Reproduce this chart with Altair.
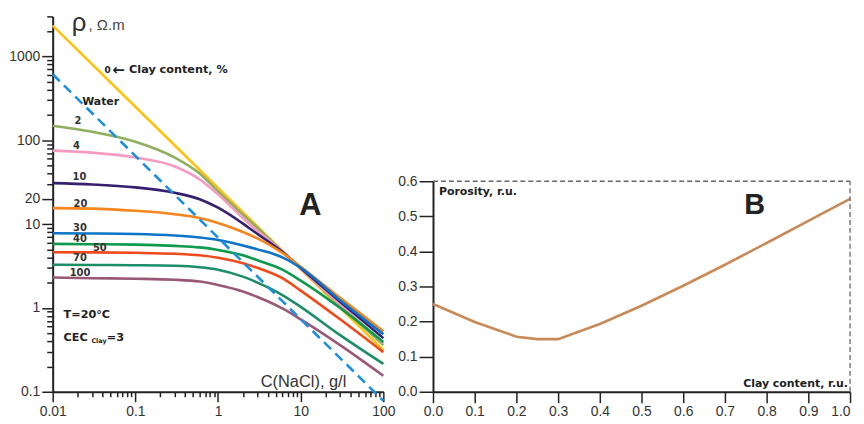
import altair as alt
import pandas as pd

# ---------------- Panel A data ----------------
conc = [0.01, 0.03, 0.1, 0.3, 0.6, 1, 2, 3, 6, 10, 30, 100]
clay0_x = [0.01, 0.1, 1, 10, 100]
clay0 = [2330, 250.9, 27.04, 2.914, 0.314]
clay2 = [148.5, 126.1, 96.0, 62.1, 40.1, 24.6, 12.95, 8.97, 4.75, 2.94, 1.067, 0.360]
clay4 = [75.1, 71.1, 62.1, 48.6, 34.1, 22.6, 11.78, 8.26, 4.71, 2.95, 1.097, 0.380]
clay10 = [30.8, 29.7, 27.4, 23.6, 19.77, 15.68, 10.14, 7.62, 4.66, 3.00, 1.184, 0.436]
clay20 = [15.5, 15.3, 14.4, 13.1, 11.78, 10.3, 8.04, 6.74, 4.54, 3.10, 1.317, 0.527]
clay30 = [7.76, 7.72, 7.62, 7.31, 6.92, 6.47, 5.57, 4.99, 4.01, 3.01, 1.233, 0.486]
clay40 = [5.80, 5.75, 5.69, 5.49, 5.27, 4.92, 4.24, 3.70, 2.86, 2.116, 1.00, 0.391]
clay50 = [4.62, 4.60, 4.54, 4.42, 4.24, 3.96, 3.41, 3.01, 2.265, 1.61, 0.731, 0.297]
clay70 = [3.27, 3.25, 3.23, 3.18, 3.06, 2.86, 2.36, 2.00, 1.425, 1.03, 0.473, 0.215]
clay100 = [2.30, 2.26, 2.23, 2.17, 2.06, 1.872, 1.568, 1.35, 0.987, 0.731, 0.360, 0.155]
water_x = [0.01, 1, 100]
water = [612, 6.9, 0.078]

series_names = ["0", "2", "4", "10", "20", "30", "40", "50", "70", "100"]
series_colors = ["#FFC20E", "#8FAF5E", "#F59BC1", "#34206F", "#F7861E",
                 "#0B74C8", "#0E9A4B", "#F0491A", "#1C8E66", "#9A5877"]

label_text = ["2", "4", "10", "20", "30", "40", "50", "70", "100"]
label_x = [0.0202, 0.0194, 0.0211, 0.0217, 0.0214, 0.0214, 0.0372, 0.0214, 0.0214]
label_y = [170, 85.4, 36.0, 17.4, 9.04, 6.70, 5.20, 3.96, 2.58]

x_ticks_a = [0.01, 0.02, 0.03, 0.04, 0.05, 0.06, 0.07, 0.08, 0.09,
             0.1, 0.2, 0.3, 0.4, 0.5, 0.6, 0.7, 0.8, 0.9,
             1, 2, 3, 4, 5, 6, 7, 8, 9,
             10, 20, 30, 40, 50, 60, 70, 80, 90, 100]
y_ticks_a = [0.1, 0.2, 0.3, 0.4, 0.5, 0.6, 0.7, 0.8, 0.9,
             1, 2, 3, 4, 5, 6, 7, 8, 9,
             10, 20, 30, 40, 50, 60, 70, 80, 90,
             100, 200, 300, 400, 500, 600, 700, 800, 900,
             1000, 2000, 3000]

# ---------------- Panel B data ----------------
clay_frac = [0, 0.1, 0.2, 0.25, 0.3, 0.4, 0.5, 0.6, 0.7, 0.8, 0.9, 1.0]
porosity = [0.25, 0.199, 0.157, 0.15, 0.15, 0.193, 0.245, 0.302, 0.362, 0.424, 0.487, 0.55]
x_ticks_b = [0, 0.05, 0.1, 0.15, 0.2, 0.25, 0.3, 0.35, 0.4, 0.45, 0.5,
             0.55, 0.6, 0.65, 0.7, 0.75, 0.8, 0.85, 0.9, 0.95, 1.0]
y_ticks_b = [0, 0.05, 0.1, 0.15, 0.2, 0.25, 0.3, 0.35, 0.4, 0.45, 0.5, 0.55, 0.6]

FONT = "Liberation Sans"
BFONT = "DejaVu Sans"

# ---------------- build tables ----------------
rows = []
for name, vals in zip(series_names, [clay0, clay2, clay4, clay10, clay20, clay30,
                                      clay40, clay50, clay70, clay100]):
    xs = clay0_x if name == "0" else conc
    for i, (c, v) in enumerate(zip(xs, vals)):
        rows.append({"C": c, "rho": v, "clay": name, "i": i})
curves_df = pd.DataFrame(rows)
water_df = pd.DataFrame({"C": water_x, "rho": water})
labels_df = pd.DataFrame({"x": label_x, "y": label_y, "t": label_text})

xs_a = alt.Scale(type="log", domain=[0.01, 100], nice=False)
ys_a = alt.Scale(type="log", domain=[0.1, 3000], nice=False)

x_axis_a = alt.Axis(
    values=x_ticks_a, format="~g", title=None, grid=False,
    labelExpr="indexof([0.01,0.1,1,10,100], datum.value) >= 0 ? datum.label : ''",
    tickSize={"condition": {"test": "indexof([0.01,0.1,1,10,100], datum.value) >= 0", "value": 10}, "value": 5},
    tickWidth=1.5, tickColor="#222", domainColor="#222", domainWidth=2,
    labelFont=FONT, labelFontSize=14, labelColor="#333", labelPadding=3,
    labelOverlap=False, labelFlush=False)
y_axis_a = alt.Axis(
    values=y_ticks_a, format="~g", title=None, grid=False,
    labelExpr="indexof([0.1,1,10,20,100,1000], datum.value) >= 0 ? datum.label : ''",
    tickSize={"condition": {"test": "indexof([0.1,1,10,20,100,1000], datum.value) >= 0", "value": 11}, "value": 6},
    tickWidth=1.5, tickColor="#222", domainColor="#222", domainWidth=2,
    labelFont=FONT, labelFontSize=14, labelColor="#333", labelPadding=2,
    labelOverlap=False, labelFlush=False)

curves = alt.Chart(curves_df).mark_line(strokeWidth=2.6, interpolate="monotone").encode(
    x=alt.X("C:Q", scale=xs_a, axis=x_axis_a),
    y=alt.Y("rho:Q", scale=ys_a, axis=y_axis_a),
    color=alt.Color("clay:N", scale=alt.Scale(domain=series_names, range=series_colors), legend=None),
    order="i:Q",
)
water_line = alt.Chart(water_df).mark_line(strokeWidth=2.6, strokeDash=[10, 6], color="#1C8FE0", clip=False).encode(
    x=alt.X("C:Q", scale=xs_a), y=alt.Y("rho:Q", scale=ys_a))

num_labels = alt.Chart(labels_df).mark_text(font=BFONT, fontSize=10, fontWeight="bold", color="#333").encode(
    x=alt.X("x:Q", scale=xs_a), y=alt.Y("y:Q", scale=ys_a), text="t:N")


def note(x, y, text, size, weight="normal", align="left", color="#222", baseline="alphabetic", font=BFONT):
    return alt.Chart(pd.DataFrame({"x": [x], "y": [y], "t": [text]})).mark_text(
        font=font, fontSize=size, fontWeight=weight, align=align, color=color, baseline=baseline
    ).encode(x=alt.X("x:Q", scale=xs_a), y=alt.Y("y:Q", scale=ys_a), text="t:N")


notes_a = [
    note(0.0170, 2032, "ρ", 26, color="#333", font=FONT),
    note(0.0272, 2087, ", Ω.m", 15, color="#444", font=FONT),
    note(0.04246, 641, "0", 9, "bold"),
    note(0.05253, 689, "←", 15, "bold", baseline="middle"),
    note(0.0840, 641, "Clay content, %", 11.3, "bold"),
    note(0.02272, 261, "Water", 11, "bold"),
    note(0.01355, 0.757, "T=20°C", 11.3, "bold"),
    note(0.01355, 0.402, "CEC", 11.3, "bold"),
    note(0.0294, 0.380, "Clay", 6.5, "bold"),
    note(0.0451, 0.402, "=3", 11.3, "bold"),
    note(13.1, 12.88, "A", 31, "bold", align="center", font=FONT),
    note(3.29, 0.1146, "C(NaCl), g/l", 16.5, color="#333", font=FONT),
]

panel_a = alt.layer(curves, water_line, num_labels, *notes_a).properties(width=333, height=378)

# ---------------- Panel B ----------------
por_df = pd.DataFrame({"clay": clay_frac, "phi": porosity})
xs_b = alt.Scale(domain=[0, 1], nice=False, zero=False)
ys_b = alt.Scale(domain=[0, 0.6], nice=False, zero=False, range=[378, 166])

major_b = "abs(datum.value*10 - round(datum.value*10)) < 0.001"
x_axis_b = alt.Axis(
    values=x_ticks_b, format=".1f", title=None, grid=False,
    labelExpr=major_b + " ? datum.label : ''",
    tickSize={"condition": {"test": major_b, "value": 11}, "value": 6},
    labelAlign={"condition": {"test": "datum.value >= 0.999", "value": "right"}, "value": "center"},
    tickWidth=1.5, tickColor="#222", domainColor="#222", domainWidth=2,
    labelFont=FONT, labelFontSize=14, labelColor="#333", labelPadding=2,
    labelOverlap=False, labelFlush=False)
y_axis_b = alt.Axis(
    values=y_ticks_b, format=".1f", title=None, grid=False,
    labelExpr=major_b + " ? datum.label : ''",
    tickSize={"condition": {"test": major_b, "value": 14}, "value": 8},
    tickWidth=1.5, tickColor="#222", domainColor="#222", domainWidth=2,
    labelFont=FONT, labelFontSize=14, labelColor="#333", labelPadding=2,
    labelOverlap=False, labelFlush=False)

por_line = alt.Chart(por_df).mark_line(strokeWidth=2.6, color="#C98A5A").encode(
    x=alt.X("clay:Q", scale=xs_b, axis=x_axis_b),
    y=alt.Y("phi:Q", scale=ys_b, axis=y_axis_b))

border_top = alt.Chart(pd.DataFrame({"x": [0.0], "x2": [1.0], "y": [0.6]})).mark_rule(
    strokeDash=[5, 3], color="#666", strokeWidth=1.3).encode(
    x=alt.X("x:Q", scale=xs_b), x2="x2:Q", y=alt.Y("y:Q", scale=ys_b))
border_right = alt.Chart(pd.DataFrame({"x": [1.0], "y": [0.0], "y2": [0.6]})).mark_rule(
    strokeDash=[5, 3], color="#666", strokeWidth=1.3).encode(
    x=alt.X("x:Q", scale=xs_b), y=alt.Y("y:Q", scale=ys_b), y2="y2:Q")


def note_b(x, y, text, size, align="left", font=BFONT):
    return alt.Chart(pd.DataFrame({"x": [x], "y": [y], "t": [text]})).mark_text(
        font=font, fontSize=size, fontWeight="bold", align=align, color="#222", baseline="alphabetic"
    ).encode(x=alt.X("x:Q", scale=xs_b), y=alt.Y("y:Q", scale=ys_b), text="t:N")


notes_b = [
    note_b(0.0143, 0.5618, "Porosity, r.u.", 11),
    note_b(0.995, 0.01415, "Clay content, r.u.", 11, align="right"),
    note_b(0.771, 0.5058, "B", 29, align="center", font=FONT),
]

panel_b = alt.layer(por_line, border_top, border_right, *notes_b).properties(width=420, height=378)

chart = alt.hconcat(panel_a, panel_b, spacing=50, bounds="flush").properties(
    padding={"left": 0, "top": -1, "right": 0, "bottom": 0}
).configure_view(stroke="transparent")

chart.save("out.html", embed_options={"renderer": "svg", "actions": False})
